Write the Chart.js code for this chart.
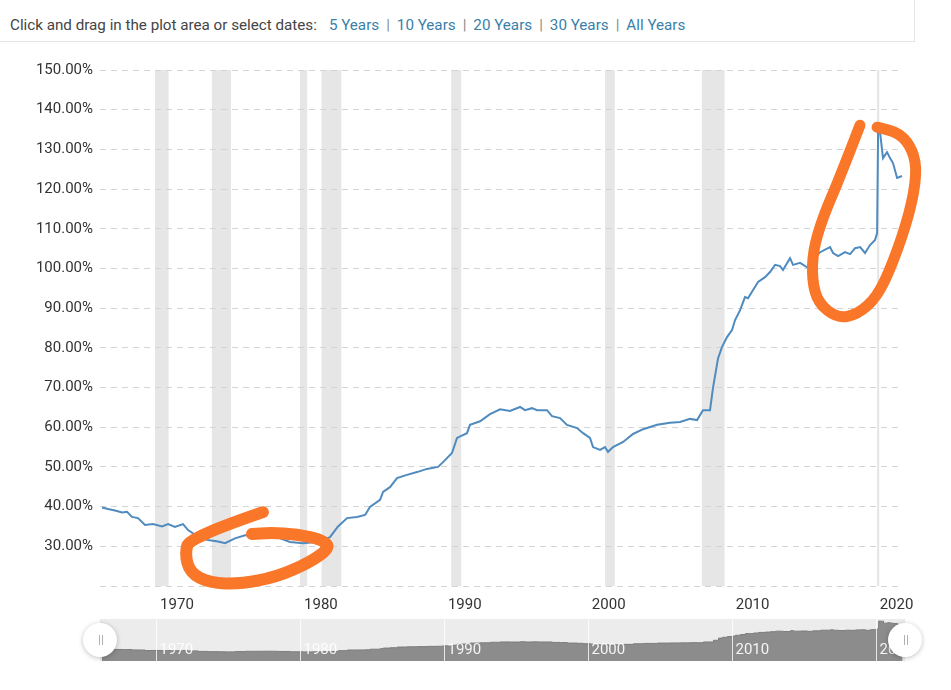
<!DOCTYPE html>
<html>
<head>
<meta charset="utf-8">
<script src="https://cdn.jsdelivr.net/npm/chart.js@4.4.0/dist/chart.umd.min.js"></script>
<style>
  html, body { margin: 0; padding: 0; background: #fff; }
  body { width: 951px; height: 690px; position: relative; overflow: hidden; font-family: Roboto, sans-serif; }
  #topbar { position: absolute; left: 0; top: 0; width: 915px; height: 42px; box-sizing: border-box;
            border-right: 1px solid #e4e4e4; border-bottom: 1px solid #e4e4e4;
            padding-left: 10px; font-size: 15.2px; color: #444; line-height: 50px; white-space: nowrap; }
  #topbar .lead { margin-right: 12px; }
  #topbar a { color: #3a7fa8; text-decoration: none; }
  #topbar .sep { color: #888; margin: 0 7px; }
  #mainChart { position: absolute; left: 0; top: 0; }
  #navChart { position: absolute; left: 0; top: 610px; }
</style>
</head>
<body>
<div id="topbar"><span class="lead">Click and drag in the plot area or select dates:</span><a>5 Years</a><span class="sep">|</span><a>10 Years</a><span class="sep">|</span><a>20 Years</a><span class="sep">|</span><a>30 Years</a><span class="sep">|</span><a>All Years</a></div>
<canvas id="mainChart" width="951" height="690"></canvas>
<canvas id="navChart" width="951" height="60"></canvas>
<script>
// Debt to GDP ratio (decimal year, percent)
const years = [
  1966.24, 1966.66, 1967.14, 1967.63, 1967.98, 1968.32, 1968.74, 1969.23, 1969.78, 1970.41,
  1970.83, 1971.31, 1971.87, 1972.22, 1972.91, 1973.61, 1974.30, 1974.79, 1975.48, 1976.18,
  1976.52, 1977.30, 1978.40, 1979.30, 1980.21, 1980.90, 1981.60, 1982.08, 1982.64, 1983.27,
  1983.96, 1984.52, 1984.86, 1985.56, 1985.77, 1986.25, 1986.74, 1987.43, 1988.13, 1988.82,
  1989.59, 1989.94, 1990.56, 1990.91, 1991.60, 1991.81, 1992.51, 1993.20, 1993.90, 1994.59,
  1995.29, 1995.63, 1996.12, 1996.47, 1997.16, 1997.51, 1998.07, 1998.55, 1999.25, 1999.67,
  2000.15, 2000.36, 2000.85, 2001.19, 2001.40, 2001.75, 2002.45, 2003.14, 2003.84, 2004.81,
  2005.71, 2006.41, 2007.10, 2007.59, 2008.00, 2008.49, 2008.70, 2009.05, 2009.32, 2009.67,
  2010.02, 2010.23, 2010.58, 2010.92, 2011.13, 2011.48, 2011.83, 2012.31, 2012.66, 2013.01,
  2013.36, 2013.56, 2014.05, 2014.26, 2014.75, 2015.23, 2015.60, 2016.14, 2016.83, 2017.04,
  2017.39, 2017.87, 2018.22, 2018.57, 2018.92, 2019.26, 2019.61, 2019.96, 2020.10, 2020.17,
  2020.30, 2020.51, 2020.79, 2021.00, 2021.21, 2021.49, 2021.83
];
const debtPct = [
  39.8, 39.4, 39.0, 38.5, 38.7, 37.4, 37.1, 35.4, 35.6, 35.0,
  35.6, 34.9, 35.6, 34.1, 32.4, 31.6, 31.2, 30.8, 32.0, 32.8,
  32.8, 33.0, 32.3, 31.1, 30.8, 31.0, 31.6, 32.3, 35.0, 37.1,
  37.4, 37.9, 39.9, 41.7, 43.7, 44.9, 47.2, 48.0, 48.7, 49.5,
  50.0, 51.2, 53.5, 57.3, 58.5, 60.6, 61.5, 63.3, 64.5, 64.1,
  65.1, 64.3, 64.8, 64.3, 64.3, 62.8, 62.3, 60.6, 59.8, 58.5,
  57.3, 55.0, 54.3, 55.0, 53.8, 55.0, 56.3, 58.3, 59.5, 60.6,
  61.1, 61.3, 62.1, 61.8, 64.3, 64.3, 70.0, 77.4, 80.2, 82.7,
  84.5, 87.0, 89.5, 92.8, 92.5, 94.6, 96.6, 97.8, 99.1, 100.9,
  100.6, 99.6, 102.6, 100.9, 101.4, 100.3, 102.0, 104.1, 105.4, 103.9,
  103.1, 104.1, 103.6, 105.1, 105.4, 103.9, 105.9, 107.2, 108.9, 134.9,
  134.5, 127.8, 129.3, 127.8, 126.5, 122.8, 123.3
];

// US recessions (shaded bands)
const recStart = [1969.92, 1973.87, 1980.00, 1981.50, 1990.50, 2001.20, 2007.92, 2020.10];
const recEnd   = [1970.87, 1975.20, 1980.50, 1982.87, 1991.20, 2001.87, 2009.50, 2020.25];

const decadeTicks = [1970, 1980, 1990, 2000, 2010, 2020];
const yTicks = [20, 30, 40, 50, 60, 70, 80, 90, 100, 110, 120, 130, 140, 150];

// Hand-drawn orange marks, in (year, percent)
const lowMarkX = [1977.42, 1972.35, 1972.00, 1972.35, 1973.74, 1975.83, 1978.40, 1980.69, 1982.08, 1981.59, 1979.79, 1977.91, 1976.66];
const lowMarkY = [38.6, 32.3, 28.3, 23.3, 20.8, 20.5, 22.3, 26.0, 29.6, 31.6, 33.1, 33.4, 33.1];
const highMarkX = [2018.91, 2017.52, 2016.34, 2015.65, 2015.58, 2016.00, 2017.32, 2018.71, 2020.10, 2021.20, 2022.38, 2022.87, 2022.59, 2021.69, 2020.10];
const highMarkY = [136.1, 123.0, 113.0, 104.6, 97.1, 91.3, 87.5, 88.3, 92.8, 101.4, 114.0, 124.0, 129.8, 134.1, 135.6];

const points = years.map((yr, i) => ({ x: yr, y: debtPct[i] }));

const recessionPlugin = {
    id: 'recessions',
    beforeDraw(chart) {
        const { ctx, chartArea: a, scales: { x } } = chart;
        ctx.save();
        ctx.fillStyle = '#e6e6e6';
        recStart.forEach((s, i) => {
            const x0 = x.getPixelForValue(s);
            const x1 = x.getPixelForValue(recEnd[i]);
            ctx.fillRect(x0, a.top, Math.max(2, x1 - x0), a.bottom - a.top);
        });
        ctx.restore();
    }
};

function strokeMark(chart, xs, ys) {
    const { ctx, scales: { x, y } } = chart;
    const pts = xs.map((v, i) => [x.getPixelForValue(v), y.getPixelForValue(ys[i])]);
    ctx.beginPath();
    ctx.moveTo(pts[0][0], pts[0][1]);
    for (let i = 1; i < pts.length - 1; i++) {
        const mx = (pts[i][0] + pts[i + 1][0]) / 2;
        const my = (pts[i][1] + pts[i + 1][1]) / 2;
        ctx.quadraticCurveTo(pts[i][0], pts[i][1], mx, my);
    }
    const last = pts[pts.length - 1];
    ctx.lineTo(last[0], last[1]);
    ctx.stroke();
}

const markPlugin = {
    id: 'marks',
    afterDraw(chart) {
        const ctx = chart.ctx;
        ctx.save();
        ctx.strokeStyle = 'rgb(250, 118, 40)';
        ctx.lineWidth = 12;
        ctx.lineCap = 'round';
        ctx.lineJoin = 'round';
        strokeMark(chart, lowMarkX, lowMarkY);
        ctx.lineWidth = 11;
        strokeMark(chart, highMarkX, highMarkY);
        ctx.restore();
    }
};

// Main chart
new Chart(document.getElementById('mainChart'), {
    type: 'line',
    data: {
        datasets: [{
            data: points,
            borderColor: '#4f8bbf',
            borderWidth: 2,
            pointRadius: 0,
            tension: 0,
            fill: false
        }]
    },
    options: {
        responsive: false,
        animation: false,
        layout: { padding: { left: 0, right: 48, top: 70, bottom: 74 } },
        plugins: {
            legend: { display: false },
            tooltip: { enabled: false }
        },
        scales: {
            x: {
                type: 'linear',
                min: 1966.1,
                max: 2021.9,
                grid: { display: false, drawTicks: false },
                border: { display: false },
                afterBuildTicks: function(scale) {
                    scale.ticks = decadeTicks.map(v => ({ value: v }));
                },
                afterFit: function(scale) { scale.height = 30; },
                ticks: {
                    align: 'start',
                    labelOffset: 4,
                    padding: 10,
                    maxRotation: 0,
                    autoSkip: false,
                    color: '#333',
                    font: { family: 'Roboto', size: 15 },
                    callback: function(value) { return String(value); }
                }
            },
            y: {
                min: 20,
                max: 150,
                afterBuildTicks: function(scale) {
                    scale.ticks = yTicks.map(v => ({ value: v }));
                },
                afterFit: function(scale) { scale.width = 100; },
                grid: { color: '#d4d4d4', drawTicks: false, lineWidth: 1 },
                border: { display: false, dash: [6, 5] },
                ticks: {
                    padding: 7,
                    color: '#333',
                    font: { family: 'Roboto', size: 15 },
                    callback: function(value) {
                        return value === 20 ? '' : value.toFixed(2) + '%';
                    }
                }
            }
        }
    },
    plugins: [recessionPlugin, markPlugin]
});

// Navigator strip
const navPlugin = {
    id: 'navigator',
    beforeDatasetsDraw(chart) {
        const { ctx, chartArea: a } = chart;
        ctx.save();
        ctx.fillStyle = '#ececec';
        ctx.fillRect(a.left, a.top, a.right - a.left, a.bottom - a.top);
        ctx.restore();
    },
    afterDatasetsDraw(chart) {
        const { ctx, chartArea: a, scales: { x } } = chart;
        ctx.save();
        ctx.strokeStyle = 'rgba(255,255,255,0.8)';
        ctx.lineWidth = 1;
        ctx.fillStyle = 'rgba(255,255,255,0.9)';
        ctx.font = '15px Roboto';
        ctx.textAlign = 'left';
        ctx.textBaseline = 'middle';
        decadeTicks.forEach(v => {
            const px = Math.round(x.getPixelForValue(v)) + 0.5;
            ctx.beginPath();
            ctx.moveTo(px, a.top);
            ctx.lineTo(px, a.bottom);
            ctx.stroke();
            ctx.fillText(String(v), px + 3, a.bottom - 11);
        });
        ctx.restore();
    },
    afterDraw(chart) {
        const { ctx, chartArea: a } = chart;
        const cy = (a.top + a.bottom) / 2;
        [a.left, a.right].forEach(cx => {
            ctx.save();
            ctx.shadowColor = 'rgba(0,0,0,0.25)';
            ctx.shadowBlur = 5;
            ctx.shadowOffsetY = 1;
            ctx.fillStyle = '#fff';
            ctx.beginPath();
            ctx.arc(cx, cy, 17, 0, Math.PI * 2);
            ctx.fill();
            ctx.restore();
            ctx.save();
            ctx.strokeStyle = '#b0b0b0';
            ctx.lineWidth = 1;
            [-1.5, 1.5].forEach(dx => {
                ctx.beginPath();
                ctx.moveTo(Math.round(cx + dx) + 0.5, cy - 5);
                ctx.lineTo(Math.round(cx + dx) + 0.5, cy + 5);
                ctx.stroke();
            });
            ctx.restore();
        });
    }
};

new Chart(document.getElementById('navChart'), {
    type: 'line',
    data: {
        datasets: [{
            data: points,
            borderColor: '#7d7d7d',
            borderWidth: 1,
            backgroundColor: '#8c8c8c',
            pointRadius: 0,
            stepped: true,
            fill: 'origin'
        }]
    },
    options: {
        responsive: false,
        animation: false,
        layout: { padding: { left: 100, right: 46, top: 9, bottom: 9 } },
        plugins: {
            legend: { display: false },
            tooltip: { enabled: false }
        },
        scales: {
            x: { type: 'linear', min: 1966.1, max: 2022.0, display: false },
            y: { min: 0, max: 142, display: false }
        }
    },
    plugins: [navPlugin]
});
</script>
</body>
</html>
